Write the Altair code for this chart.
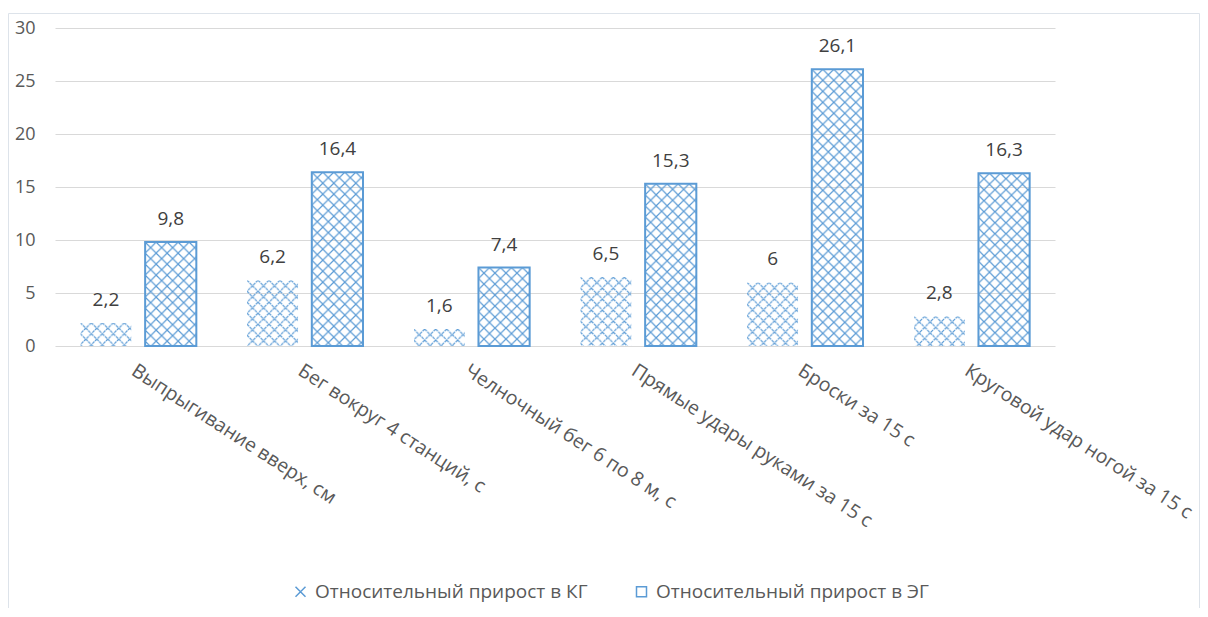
import altair as alt
import pandas as pd
from urllib.parse import quote

# ---- data ----
categories = [
    "Выпрыгивание вверх, см",
    "Бег вокруг 4 станций, с",
    "Челночный бег 6 по 8 м, с",
    "Прямые удары руками за 15 с",
    "Броски за 15 с",
    "Круговой удар ногой за 15 с",
]
series_names = ["Относительный прирост в КГ", "Относительный прирост в ЭГ"]
kg_values = [2.2, 6.2, 1.6, 6.5, 6.0, 2.8]
eg_values = [9.8, 16.4, 7.4, 15.3, 26.1, 16.3]
kg_labels = ["2,2", "6,2", "1,6", "6,5", "6", "2,8"]
eg_labels = ["9,8", "16,4", "7,4", "15,3", "26,1", "16,3"]
y_ticks = [0, 5, 10, 15, 20, 25, 30]

rows = []
for c, v, l in zip(categories, kg_values, kg_labels):
    rows.append({"category": c, "series": series_names[0], "value": v, "label": l})
for c, v, l in zip(categories, eg_values, eg_labels):
    rows.append({"category": c, "series": series_names[1], "value": v, "label": l})
df = pd.DataFrame(rows)

BLUE = "#5B9BD5"
FONT = "Open Sans"
TXT = "#595959"


def hatch(color, width, extra=""):
    svg = (
        "<svg xmlns='http://www.w3.org/2000/svg'><defs>"
        "<pattern id='h' width='11' height='11' patternUnits='userSpaceOnUse'>"
        f"<path d='M0,0L11,11M11,0L0,11' fill='none' stroke='{color}' stroke-width='{width}'{extra}/>"
        "</pattern></defs><rect width='100%' height='100%' fill='url(#h)'/></svg>"
    )
    return "data:image/svg+xml;charset=utf-8," + quote(svg)


x_enc = alt.X(
    "category:N",
    sort=categories,
    scale=alt.Scale(paddingInner=0.304, paddingOuter=0.152),
    axis=alt.Axis(
        title=None,
        domain=False,
        ticks=False,
        labelAngle=33,
        labelAlign="left",
        labelBaseline="top",
        labelPadding=15,
        labelFontSize=19.5,
        labelFont=FONT,
        labelColor=TXT,
        labelLimit=600,
    ),
)
xoff_enc = alt.XOffset(
    "series:N", sort=series_names, scale=alt.Scale(paddingInner=0.21, paddingOuter=0)
)
y_enc = alt.Y(
    "value:Q",
    scale=alt.Scale(domain=[0, 30], nice=False),
    axis=alt.Axis(
        title=None,
        values=y_ticks,
        domain=False,
        ticks=False,
        labelPadding=20,
        labelFontSize=18,
        labelFont=FONT,
        labelColor=TXT,
        gridColor="#d9d9d9",
        gridWidth=1,
    ),
)

base = alt.Chart(df)

img_kg = base.transform_filter(alt.datum.series == series_names[0]).mark_image(aspect=False).encode(
    x=x_enc, xOffset=xoff_enc, y=y_enc, y2=alt.datum(0),
    url=alt.value(hatch(BLUE, 1.2, " stroke-dasharray='3,0.7'")),
)
img_eg = base.transform_filter(alt.datum.series == series_names[1]).mark_image(aspect=False).encode(
    x=x_enc, xOffset=xoff_enc, y=y_enc, y2=alt.datum(0),
    url=alt.value(hatch(BLUE, 1.2)),
)
outline = base.transform_filter(alt.datum.series == series_names[1]).mark_bar(
    fillOpacity=0, stroke=BLUE, strokeWidth=2
).encode(x=x_enc, xOffset=xoff_enc, y=y_enc)

labels = base.mark_text(
    baseline="alphabetic", dy=-17, fontSize=19, font=FONT, color="#404040"
).encode(x=x_enc, xOffset=xoff_enc, y=y_enc, text="label:N")

legend_pts = base.mark_point(opacity=0, filled=False).encode(
    x=x_enc, xOffset=xoff_enc, y=y_enc,
    color=alt.Color(
        "series:N",
        scale=alt.Scale(domain=series_names, range=[BLUE, BLUE]),
        legend=alt.Legend(title=None),
    ),
    shape=alt.Shape(
        "series:N",
        scale=alt.Scale(domain=series_names, range=["M-1,-1L1,1M-1,1L1,-1", "square"]),
        legend=alt.Legend(title=None),
    ),
)

frame = alt.Chart(pd.DataFrame({"f": [0]})).mark_rect(
    fillOpacity=0, stroke="#dde3ea", strokeWidth=1
).encode(
    x=alt.value(-46.5), x2=alt.value(1144.5), y=alt.value(-14.5), y2=alt.value(640)
)

chart = (
    alt.layer(img_kg, img_eg, outline, labels, legend_pts, frame)
    .properties(
        width=1000,
        height=318,
        autosize=alt.AutoSizeParams(type="none"),
        padding={"left": 47, "top": 20, "right": 145, "bottom": 262},
    )
    .configure_view(stroke=None)
    .configure_legend(
        orient="none",
        legendX=236,
        legendY=554,
        direction="horizontal",
        symbolSize=100,
        symbolStrokeWidth=1.5,
        symbolOpacity=1,
        labelFontSize=19,
        labelFont=FONT,
        labelColor=TXT,
        labelOffset=5,
        labelLimit=600,
        columnPadding=44,
    )
)

chart.save("out.html", embed_options={"renderer": "svg", "actions": False})
